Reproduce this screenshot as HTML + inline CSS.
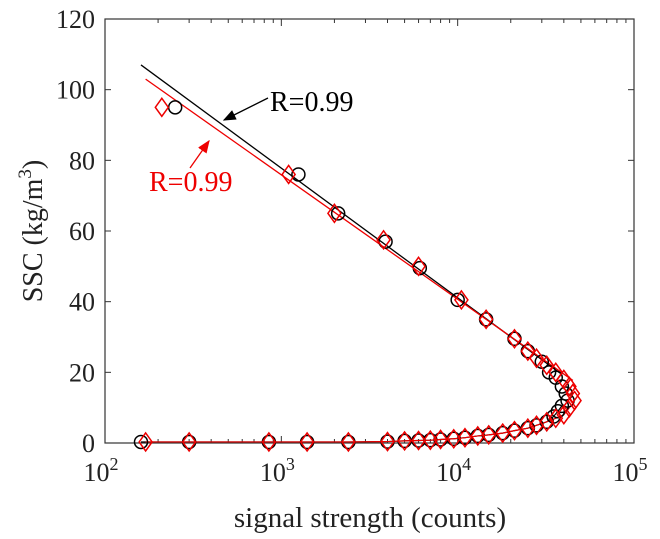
<!DOCTYPE html>
<html><head><meta charset="utf-8"><style>
body{margin:0;background:#fff}
svg{display:block;font-family:"Liberation Serif",serif}
</style></head><body>
<svg id="chart" width="660" height="539">
<g id="axes"></g><g id="marks"></g><g id="labels"></g>
</svg>
<script>
const blackUpperX=[250,1250,2100,3900,6100,10000,14500,21000,25000,30000,33000,36000,39000,41000,42000];
const blackUpperY=[95,76,65,57,49.5,40.5,35,29.5,26,23,20,18.5,16,14,12];
const blackLowerX=[160,300,850,1400,2400,4000,5000,6000,7000,8000,9500,11000,13000,15000,18000,21000,25000,28000,32000,35000,37000,39000];
const blackLowerY=[0.3,0.3,0.3,0.3,0.3,0.4,0.6,0.7,0.8,1,1.2,1.5,2,2.3,2.8,3.5,4.2,5,6,7.5,9,10.5];
const redUpperX=[210,1100,2000,3800,6000,10500,14500,21000,25000,28000,32000,36000,40000,43000,45000,46000];
const redUpperY=[95,76,65,57.5,50,40.5,35,29.5,26,24,22,20,18,16,14,12];
const redLowerX=[170,300,850,1400,2400,4000,5000,6000,7000,8000,9500,11000,13000,15000,18000,21000,25000,28000,32000,36000,40000,43000];
const redLowerY=[0.3,0.3,0.3,0.3,0.3,0.4,0.6,0.7,0.8,1,1.2,1.5,2,2.3,2.8,3.5,4.2,5,6,7,8,10];
const blackFit=[160,38000]; const blackFitA=107, blackFitLogA=2.204, blackFitB=-36.7;
const redFit=[170,45000]; const redFitA=103, redFitLogA=2.23, redFitB=-35.2;
const yTicks=[0,20,40,60,80,100,120];
const xDecades=[2,3,4,5];

const L=105,R=634,T=19,B=443,NS="http://www.w3.org/2000/svg";
const sx=v=>L+(Math.log10(v)-2)/3*(R-L);
const sy=v=>B-v/120*(B-T);
function mk(p,tag,at){const e=document.createElementNS(NS,tag);for(const k in at)e.setAttribute(k,at[k]);p.appendChild(e);return e;}
const axes=document.getElementById('axes'),marks=document.getElementById('marks'),labels=document.getElementById('labels');
let fr=mk(axes,'rect',{x:L,y:T,width:R-L,height:B-T,fill:'none',stroke:'#333','stroke-width':1.2});


yTicks.forEach(v=>{
  mk(axes,'line',{x1:L,x2:L+6,y1:sy(v),y2:sy(v),stroke:'#333'});
  mk(axes,'line',{x1:R,x2:R-6,y1:sy(v),y2:sy(v),stroke:'#333'});
  let t=mk(labels,'text',{x:L-10,y:sy(v)+9,'text-anchor':'end','font-size':26,fill:'#222'});t.textContent=v;
  
  
});
xDecades.forEach((d,i)=>{
  const x=sx(Math.pow(10,d));
  mk(axes,'line',{x1:x,x2:x,y1:B,y2:B-7,stroke:'#333'});
  mk(axes,'line',{x1:x,x2:x,y1:T,y2:T+7,stroke:'#333'});
  if(i<xDecades.length-1)for(let m=2;m<10;m++){const xm=sx(m*Math.pow(10,d));
    mk(axes,'line',{x1:xm,x2:xm,y1:B,y2:B-4,stroke:'#333'});
    mk(axes,'line',{x1:xm,x2:xm,y1:T,y2:T+4,stroke:'#333'});}
  let t=mk(labels,'text',{x:x-4,y:B+38,'text-anchor':'middle','font-size':26,fill:'#222'});
  t.innerHTML='10<tspan dy="-11" font-size="18">'+d+'</tspan>';
  
  
});
function fitLine(xs,a,la,b,col,name){
  let l=mk(marks,'line',{x1:sx(xs[0]),y1:sy(a+b*(Math.log10(xs[0])-la)),x2:sx(xs[1]),y2:sy(a+b*(Math.log10(xs[1])-la)),stroke:col,'stroke-width':1.3});
  
  
}
function poly(xs,ys,col,name){
  let p=mk(marks,'polyline',{points:xs.map((x,i)=>sx(x)+','+sy(ys[i])).join(' '),fill:'none',stroke:col,'stroke-width':1.2});
  
  
}
fitLine(blackFit,blackFitA,blackFitLogA,blackFitB,'#000','black-fit-line');
fitLine(redFit,redFitA,redFitLogA,redFitB,'#e00','red-fit-line');
poly(blackLowerX,blackLowerY,'#000','black-lower-line');
poly(redLowerX,redLowerY,'#e00','red-lower-line');
function circles(xs,ys){xs.forEach((x,i)=>{let c=mk(marks,'circle',{cx:sx(x),cy:sy(ys[i]),r:6.5,fill:'none',stroke:'#000','stroke-width':1.5});
  
  });}
function diamonds(xs,ys){xs.forEach((x,i)=>{const cx=sx(x),cy=sy(ys[i]);
  let d=mk(marks,'polygon',{points:`${cx},${cy-9} ${cx+6.5},${cy} ${cx},${cy+9} ${cx-6.5},${cy}`,fill:'none',stroke:'#e00','stroke-width':1.5});
  
  });}
circles(blackUpperX,blackUpperY);circles(blackLowerX,blackLowerY);
diamonds(redUpperX,redUpperY);diamonds(redLowerX,redLowerY);
</script>
<div style="position:absolute;left:0;top:0">
<svg width="660" height="539" style="position:absolute;left:0;top:0">
<defs>
<marker id="ab" markerWidth="10" markerHeight="8" refX="9" refY="4" orient="auto"><path d="M0,0 L10,4 L0,8 Z" fill="#000"/></marker>
<marker id="ar" markerWidth="10" markerHeight="8" refX="9" refY="4" orient="auto"><path d="M0,0 L10,4 L0,8 Z" fill="#e00"/></marker>
</defs>
<line x1="268" y1="98" x2="224" y2="120" stroke="#000" stroke-width="1.3" marker-end="url(#ab)"/>
<text x="270" y="111" font-size="28" fill="#000">R=0.99</text>
<line x1="190" y1="168" x2="209" y2="141" stroke="#e00" stroke-width="1.3" marker-end="url(#ar)"/>
<text x="149" y="191" font-size="28" fill="#e00">R=0.99</text>
<text x="370" y="527" font-size="29" text-anchor="middle" fill="#222">signal strength (counts)</text>
<text transform="translate(42,231) rotate(-90)" font-size="28" text-anchor="middle" fill="#222">SSC (kg/m<tspan dy="-11" font-size="19">3</tspan><tspan dy="11">)</tspan></text>
</svg></div>
</body></html>
